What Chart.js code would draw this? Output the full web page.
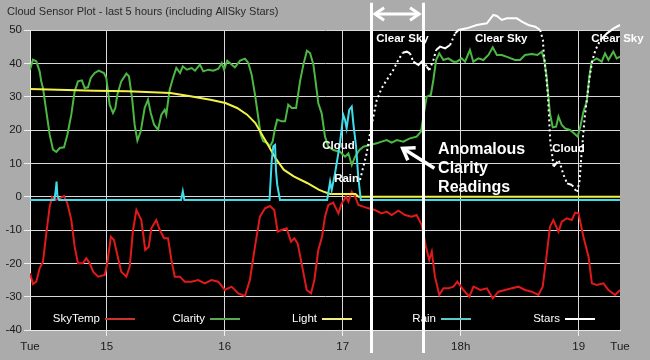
<!DOCTYPE html>
<html lang="en">
<head>
  <meta charset="UTF-8">
  <title>Cloud Sensor Plot</title>
  <style>
    body { margin: 0; background: #ababab; }
    canvas { display: block; }
  </style>
</head>
<body>
  <canvas id="plot" width="650" height="360"></canvas>

  <script src="https://cdn.jsdelivr.net/npm/chart.js"></script>
  <script>
    // time axis is minutes after 14:00 (window is 5 hours)
    const title = "Cloud Sensor Plot - last 5 hours (including AllSky Stars)";
    const xMin = 21, xMax = 321;
    const xTickValues = [21, 60, 120, 180, 240, 300, 321];
    const xTickLabels = ["Tue", "15", "16", "17", "18h", "19", "Tue"];

    const skyTempT = [21,22.5,24.2,25.9,27.6,29.3,31,32.2,33.9,36.1,38.3,40,42,43.7,45.4,47.9,49.6,51.4,53.1,55.6,59,60.3,62.1,63.7,65.4,67.4,70,71.7,73.4,75.1,77.6,79.6,81.4,82.7,85.2,87,89.2,91.2,92.9,94.6,97.2,99.7,103.1,106.5,109.9,113.3,116.7,120.1,123.5,126.9,130.3,132.8,135.4,137.9,140.5,143,145.2,146.9,148.9,151.5,153.7,155.4,157.1,159.1,161.7,163.9,165.6,167.6,169.5,171,172.7,175.2,177.8,179.5,181.7,182.9,184.6,186.3,188,190.5,193.1,196.4,199.8,202.4,204.9,208.3,211.7,215.1,217.6,220.2,222.3,224,225.3,226.9,229.1,231.2,233.7,236.3,238.3,241.4,244.4,246.5,249.9,253.3,256.3,259.2,262.6,266,269.4,272.7,276.1,279.5,281.7,283.4,285.4,287.1,289.7,291.4,293.9,296.5,298.2,299.9,302.4,305,306.7,309.2,312.6,315.1,318.5,321];
    const skyTempV = [-23,-26.2,-25.5,-21.5,-19.5,-11,-3,0,-1,-0.5,0.2,-2,-7,-15,-20,-20,-18.5,-20,-22.5,-24,-23.5,-20,-12,-13,-17.5,-22.5,-24,-21,-10,-4,-7,-16,-15,-9.5,-7,-10,-12.5,-12.5,-19,-24,-24,-25.5,-25.5,-25,-26,-25,-25.5,-28,-27,-29,-29.8,-25,-15,-6,-3.5,-2.8,-4,-10.5,-10,-9.5,-13.5,-12.5,-14,-20,-28,-29,-25,-16,-12,-6,-2.5,-1.8,-5,-2,0,-1.5,1.5,0,-2.5,-3,-3.5,-4,-5,-4.5,-5.5,-4.2,-5.5,-6,-5.5,-8.5,-15,-19,-16.5,-24,-29.5,-27.5,-27.5,-27,-25.5,-28,-30,-27,-28,-27.5,-30.5,-28.5,-28,-27.5,-27,-28,-28.5,-29.5,-27,-19,-9,-7,-10.5,-7.5,-6.5,-7,-4.8,-5,-12,-18,-26,-26.5,-26,-28,-29.5,-28];

    const clarityT = [21,22.5,24.2,25.9,26.7,27.6,29.3,31,32.7,34.4,36.1,38.3,40,42,43.7,45.4,47.4,48.8,50.5,51.9,53.9,55.9,58.6,59.8,61.5,63.2,64.4,65.4,67.4,70,71.3,72.9,74.2,75.6,77.3,79.3,81,82.4,84.1,86.1,87.8,89.5,90.3,92,93.7,95.4,97.3,98.7,100.7,103.2,104.9,107.4,109.1,111.7,114.2,116.8,118.5,119.7,121.3,123.6,125.2,127.8,130.3,132,133.7,135.4,137.1,138.3,139.6,141.7,143,144.4,145.6,146.7,149,150.7,152.3,154.1,156.3,158.3,160,161.8,163.4,165.1,165.9,167.6,169.3,171,172.7,175.2,178.6,181.2,182.9,184.6,186.3,188.5,190.5,193.9,197.3,199.8,202.4,204.9,207.5,210.8,214.2,217.6,219.8,221,222.7,224.8,226.1,227.5,229.1,231.2,233.7,236.3,238,240.5,242.2,244.7,246.4,249,251.5,254.1,256.3,258.4,260.9,264.2,267.6,270.2,272.7,276.1,279,281.2,282.5,283.7,284.6,285.4,286.8,288.5,289.7,291.4,293.1,295.6,297.6,299.5,301,302.4,304.1,305.4,306.6,309.2,311.7,313.4,315.1,317.6,319.3,321];
    const clarityV = [38.1,41.1,40.6,37.6,34.6,32.6,25.6,18.6,14.1,13.4,14.6,14.8,18.6,24.6,31.6,34.6,34.9,32.6,32.8,35.6,37.1,37.8,37.1,35.6,27.6,25.1,26.6,30.6,34.6,36.9,36.1,29.6,21.6,16.8,19.6,26.6,29.1,25.1,21.6,20.1,24.6,26.1,24.6,32.1,35.6,38.6,37.1,39.1,38.1,38.6,37.8,39.6,37.6,38.1,37.8,38.4,40.1,38.1,40.8,39.6,38.8,40.8,41.4,40.1,36.6,30.6,23.6,18.6,16.6,16.1,15.1,16.6,20.6,23.1,22.6,22.6,27.6,26.6,26.6,34.6,39.6,43.8,43.1,39.6,36,28,25,18,15,14,13.5,12,13,9.5,12,14,15,15.5,16,16.5,17,16.2,17,16.5,17.5,18,19.5,24,30,30.5,35,41,43,41,41.5,40.5,40.5,41.5,40.5,44,40.5,41.5,41,42.5,44.8,42.5,42.5,41.8,41,41,42.5,42.8,42.5,43.5,41,36,30,25,20.8,21,24,21.5,20.5,20,19,18,21.5,25.5,28.5,36,40.5,41.5,40.5,43,41,43.5,41.5,42];

    const lightT = [21,53.9,70.8,92.4,102.6,112.7,120.4,126.3,131.4,135.6,139,142.4,145.8,150,155.1,161.9,167.8,170.2,173.7,186.5,188,321];
    const lightV = [32.3,31.8,31.6,31.1,30.1,29.1,28.1,26.6,24.6,22.1,18.6,15.1,11.6,8.1,6.1,4.1,2.1,1.5,0.8,0.8,0,0];

    const rainT = [21,33.4,34.2,34.5,34.9,35.8,97.8,98.7,99.5,142.8,143.9,144.7,145.6,146.1,146.7,148.1,172.1,173.6,174.4,176.1,178.6,180.3,181.2,182,183.3,184.6,185.4,186.8,187.9,189.2,321];
    const rainV = [-1,-1,2.5,4.5,0.5,-1,-1,1.6,-1,-1,10.7,15.1,15.5,7.7,3.6,-1,-1,4.5,2,7,16,24.5,23,20.5,26,27,22,15,6,-1,-1];

    const starsT = [188.8,190.5,192.2,193.9,195.6,197.3,199.8,202.4,205.7,208.3,210.5,212.6,214.2,215.9,218.5,221,222.7,224.1,226.1,227.5,229.5,232.1,234.6,237.2,238.9,243.1,248.2,253.3,256.6,258.4,260.9,263.5,268.5,271.1,274.4,277.9,280.4,281.8,282.1,283.5,284.4,285.2,285.6,286.4,287.2,288.6,289.8,291,292.3,294.1,296.6,297.8,299.2,300.5,301.2,302.2,303.1,304.3,305.6,306.8,308.5,311,314.4,317.8,321];
    const starsV = [5,9,13,19,24,29,32.5,35,38,41,43.2,43.5,43,40.5,39.5,41,39,38,41,44,45,44.5,45.5,49,50,50.5,51.5,52,54.5,54.2,53,53.5,53.5,52.5,51.5,51,50,47,44,36,30,20.5,16,13,9,10,11,9,6.5,4,3.5,2.5,1.2,5,11,18,24,30,36,40.5,44,47,49,50.5,51.5];

    // hand-written notes on the picture
    const clearSkyEdges = [194.4, 220.9];
    const noteText = ["Clear Sky", "Clear Sky", "Clear Sky", "Cloud", "Cloud", "Rain"];
    const noteX = [210.4, 260.6, 319.7, 177.9, 294.8, 182];
    const noteY = [47.3, 47.3, 47.3, 15.2, 14.5, 5.5];
    const anomalyText = ["Anomalous", "Clarity", "Readings"];
    const anomalyX = 228.5;
    const anomalyY = [14, 8.3, 2.8];
    const arrowFrom = [226.6, 8.5];
    const arrowTo = [210.5, 14.5];

    const FONT = "Arial, 'Liberation Sans', sans-serif";
    const zip = (t, v) => t.map((x, i) => ({ x: x, y: v[i] }));

    function arrowHead(ctx, x1, y1, x2, y2, size) {
      const a = Math.atan2(y2 - y1, x2 - x1);
      ctx.beginPath();
      ctx.moveTo(x2 - size * Math.cos(a - 0.6), y2 - size * Math.sin(a - 0.6));
      ctx.lineTo(x2, y2);
      ctx.lineTo(x2 - size * Math.cos(a + 0.6), y2 - size * Math.sin(a + 0.6));
      ctx.stroke();
    }

    const backdrop = {
      id: "backdrop",
      beforeDraw(chart) {
        const { ctx, chartArea: a } = chart;
        ctx.save();
        ctx.fillStyle = "#ababab";
        ctx.fillRect(0, 0, chart.width, chart.height);
        ctx.fillStyle = "#000";
        ctx.fillRect(a.left, a.top, a.right - a.left, a.bottom - a.top);
        ctx.fillStyle = "#2a2a2a";
        ctx.font = "11px " + FONT;
        ctx.textBaseline = "middle";
        ctx.fillText(title, 7, 12);
        ctx.restore();
      }
    };

    // legend: text first, then a short line, inside the plot at the bottom
    const legendStarts = [105, 210, 322, 441, 565];
    const bottomLegend = {
      id: "bottomLegend",
      afterDatasetsDraw(chart) {
        const { ctx, chartArea: a } = chart;
        const y = a.bottom - 11;
        ctx.save();
        ctx.font = "11.5px " + FONT;
        ctx.textAlign = "right";
        ctx.textBaseline = "middle";
        chart.data.datasets.forEach((ds, i) => {
          const x = legendStarts[i];
          ctx.fillStyle = "#fff";
          ctx.fillText(ds.label, x - 5, y);
          ctx.strokeStyle = ds.legendColor;
          ctx.lineWidth = 2;
          ctx.beginPath();
          ctx.moveTo(x, y);
          ctx.lineTo(x + 30, y);
          ctx.stroke();
        });
        ctx.restore();
      }
    };

    const notes = {
      id: "notes",
      afterDraw(chart) {
        const { ctx } = chart;
        const xs = chart.scales.x, ys = chart.scales.y;
        ctx.save();
        ctx.strokeStyle = "#fff";
        ctx.fillStyle = "#fff";
        ctx.lineWidth = 3;
        const top = ys.getPixelForValue(58.2), bot = ys.getPixelForValue(-46.9);
        clearSkyEdges.forEach(t => {
          const px = Math.round(xs.getPixelForValue(t)) + 0.5;
          ctx.beginPath();
          ctx.moveTo(px, top);
          ctx.lineTo(px, bot);
          ctx.stroke();
        });
        // double arrow across the gap
        const ay = ys.getPixelForValue(54.8);
        const l = xs.getPixelForValue(clearSkyEdges[0]) + 4;
        const r = xs.getPixelForValue(clearSkyEdges[1]) - 4;
        ctx.beginPath();
        ctx.moveTo(l, ay);
        ctx.lineTo(r, ay);
        ctx.stroke();
        arrowHead(ctx, l + 20, ay, l, ay, 11);
        arrowHead(ctx, r - 20, ay, r, ay, 11);

        ctx.textAlign = "center";
        ctx.textBaseline = "middle";
        ctx.font = "bold 11.5px " + FONT;
        noteText.forEach((s, i) => {
          ctx.fillText(s, xs.getPixelForValue(noteX[i]), ys.getPixelForValue(noteY[i]));
        });

        ctx.textAlign = "left";
        ctx.font = "bold 16px " + FONT;
        anomalyText.forEach((s, i) => {
          ctx.fillText(s, xs.getPixelForValue(anomalyX), ys.getPixelForValue(anomalyY[i]));
        });
        const fx = xs.getPixelForValue(arrowFrom[0]), fy = ys.getPixelForValue(arrowFrom[1]);
        const tx = xs.getPixelForValue(arrowTo[0]), ty = ys.getPixelForValue(arrowTo[1]);
        ctx.lineWidth = 3.5;
        ctx.beginPath();
        ctx.moveTo(fx, fy);
        ctx.lineTo(tx, ty);
        ctx.stroke();
        arrowHead(ctx, fx, fy, tx, ty, 13);
        ctx.restore();
      }
    };

    const edgeTick = v => v === xMin || v === xMax;

    new Chart(document.getElementById("plot"), {
      type: "line",
      data: {
        datasets: [
          { label: "SkyTemp", data: zip(skyTempT, skyTempV), borderColor: "#e01a1a", legendColor: "#c83232", order: 4 },
          { label: "Clarity", data: zip(clarityT, clarityV), borderColor: "#4cb843", legendColor: "#5aaa55", order: 3 },
          { label: "Light", data: zip(lightT, lightV), borderColor: "#f2f246", legendColor: "#f0f080", order: 2 },
          { label: "Rain", data: zip(rainT, rainV), borderColor: "#3fdcea", legendColor: "#5ccaca", order: 1 },
          {
            label: "Stars", data: zip(starsT, starsV), borderColor: "#ffffff", legendColor: "#ffffff", order: 0,
            clip: false,
            segment: {
              borderDash: c => Math.abs(c.p1.y - c.p0.y) > 1.4 * Math.abs(c.p1.x - c.p0.x) ? [2, 3] : undefined
            }
          }
        ]
      },
      options: {
        responsive: false,
        animation: false,
        devicePixelRatio: 1,
        layout: { padding: { top: 30, right: 30, left: 0, bottom: 0 } },
        elements: {
          line: { borderWidth: 2, tension: 0 },
          point: { radius: 0 }
        },
        plugins: { legend: { display: false }, tooltip: { enabled: false } },
        scales: {
          x: {
            type: "linear",
            min: xMin,
            max: xMax,
            afterBuildTicks: s => { s.ticks = xTickValues.map(v => ({ value: v })); },
            afterFit: s => { s.height = 30; },
            grid: {
              color: c => edgeTick(c.tick.value) ? "rgba(0,0,0,0)" : "#d8d8d8",
              tickColor: c => edgeTick(c.tick.value) ? "rgba(0,0,0,0)" : "#f0f0f0",
              tickLength: 6
            },
            border: { color: "#e8e8e8" },
            ticks: {
              autoSkip: false,
              maxRotation: 0,
              padding: 4,
              color: "#1a1a1a",
              font: { family: FONT, size: 11.5 },
              callback: v => xTickLabels[xTickValues.indexOf(v)]
            }
          },
          y: {
            min: -40,
            max: 50,
            afterFit: s => { s.width = 30; },
            grid: { color: "#d8d8d8", tickColor: "#f0f0f0", tickLength: 6 },
            border: { color: "#e8e8e8" },
            ticks: {
              stepSize: 10,
              padding: 2,
              color: "#1a1a1a",
              font: { family: FONT, size: 11.5 }
            }
          }
        }
      },
      plugins: [backdrop, bottomLegend, notes]
    });
  </script>
</body>
</html>
